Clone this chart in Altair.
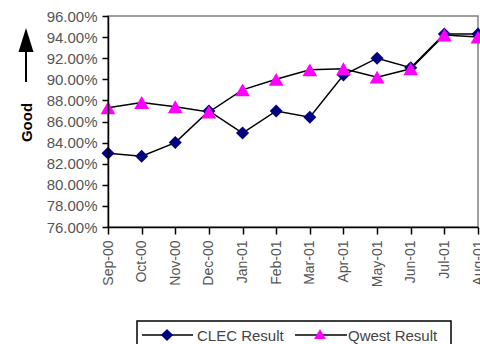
import altair as alt
import pandas as pd

# Monthly results, Sep-00 .. Aug-01
months = ["Sep-00", "Oct-00", "Nov-00", "Dec-00", "Jan-01", "Feb-01",
          "Mar-01", "Apr-01", "May-01", "Jun-01", "Jul-01", "Aug-01"]
clec_result = [0.830, 0.827, 0.840, 0.870, 0.849, 0.870,
               0.864, 0.904, 0.920, 0.911, 0.943, 0.943]
qwest_result = [0.873, 0.878, 0.874, 0.869, 0.890, 0.900,
                0.909, 0.910, 0.902, 0.910, 0.942, 0.940]
y_ticks = [0.76, 0.78, 0.80, 0.82, 0.84, 0.86, 0.88, 0.90, 0.92, 0.94, 0.96]

FONT = "Liberation Sans"
W, H = 370, 211

df = pd.DataFrame({
    "month": months * 2,
    "value": clec_result + qwest_result,
    "series": ["CLEC Result"] * len(months) + ["Qwest Result"] * len(months),
})

x_enc = alt.X(
    "month:N", sort=months,
    scale=alt.Scale(type="point", padding=0),
    axis=alt.Axis(title=None, labelAngle=270, labelFont=FONT, labelFontSize=14,
                  labelColor="#555555", labelPadding=6, tickSize=7, tickWidth=1.5,
                  tickColor="black", domainColor="black", domainWidth=1.5,
                  grid=False, zindex=1),
)
y_enc = alt.Y(
    "value:Q",
    scale=alt.Scale(domain=[0.76, 0.96], nice=False, zero=False),
    axis=alt.Axis(values=y_ticks, format=".2%", labelFont=FONT, labelFontSize=15,
                  labelColor="#555555", labelPadding=5, tickSize=6, tickWidth=1.5,
                  tickColor="black", domainColor="black", domainWidth=1.5,
                  grid=False, zindex=1,
                  title="Good", titleFont=FONT, titleFontSize=15, titleFontWeight="bold",
                  titleColor="black", titleAngle=270, titleX=-82, titleY=106,
                  titleAlign="center", titleBaseline="middle"),
)

base = alt.Chart(df)

lines = base.mark_line(color="black", strokeWidth=1.5).encode(
    x=x_enc, y=y_enc, detail="series:N")

clec_pts = base.transform_filter(alt.datum.series == "CLEC Result").mark_point(
    shape="diamond", filled=True, color="#000080", size=170, opacity=1
).encode(x=x_enc, y=y_enc)

qwest_pts = base.transform_filter(alt.datum.series == "Qwest Result").mark_point(
    shape="triangle-up", filled=True, color="#ff00ff", size=220, opacity=1
).encode(x=x_enc, y=y_enc)

one = alt.Data(values=[{}])

# "Good" direction arrow beside the y axis
arrow_shaft = alt.Chart(one).mark_rule(color="black", strokeWidth=2).encode(
    x=alt.value(-82), y=alt.value(34), y2=alt.value(66))
arrow_head = alt.Chart(one).mark_point(
    shape="M0,-1L0.625,1L-0.625,1Z", filled=True, color="black", size=576, opacity=1
).encode(x=alt.value(-82), y=alt.value(24))

# Legend box with line + marker swatches
legend_box = alt.Chart(one).mark_rect(
    fill="white", stroke="black", strokeWidth=1.5
).encode(x=alt.value(29), x2=alt.value(343), y=alt.value(305), y2=alt.value(345))
leg_line1 = alt.Chart(one).mark_rule(color="black", strokeWidth=1.5).encode(
    x=alt.value(34), x2=alt.value(85), y=alt.value(319))
leg_line2 = alt.Chart(one).mark_rule(color="black", strokeWidth=1.5).encode(
    x=alt.value(187), x2=alt.value(239), y=alt.value(319))
leg_sym1 = alt.Chart(one).mark_point(
    shape="diamond", filled=True, color="#000080", size=150, opacity=1
).encode(x=alt.value(59), y=alt.value(319))
leg_sym2 = alt.Chart(one).mark_point(
    shape="triangle-up", filled=True, color="#ff00ff", size=140, opacity=1
).encode(x=alt.value(212), y=alt.value(318))
leg_txt1 = alt.Chart(one).mark_text(
    text="CLEC Result", align="left", baseline="middle", font=FONT, fontSize=15,
    color="#444444"
).encode(x=alt.value(89), y=alt.value(320))
leg_txt2 = alt.Chart(one).mark_text(
    text="Qwest Result", align="left", baseline="middle", font=FONT, fontSize=15,
    color="#444444"
).encode(x=alt.value(240), y=alt.value(320))

chart = alt.layer(
    lines, clec_pts, qwest_pts,
    arrow_shaft, arrow_head,
    legend_box, leg_line1, leg_line2, leg_sym1, leg_sym2, leg_txt1, leg_txt2,
).properties(
    width=W, height=H,
    autosize=alt.AutoSizeParams(type="none"),
    padding={"left": 108, "top": 16, "right": 2, "bottom": 117},
    background="white",
).configure_view(stroke="#808080", strokeWidth=1.5)

chart.save("out.html", embed_options={"renderer": "svg", "actions": False})
